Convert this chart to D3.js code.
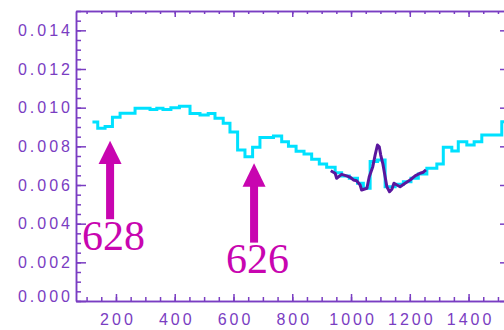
<!DOCTYPE html>
<html>
<head>
<meta charset="utf-8">
<script src="https://cdn.jsdelivr.net/npm/d3@7"></script>
<style>
  body { margin: 0; background: #fff; }
  svg { display: block; }
  .axis path, .axis line { stroke: #7a3dc2; stroke-width: 1.5; }
  .axis text { fill: #7a3dc2; font-family: "Liberation Sans", sans-serif; font-size: 16px; letter-spacing: 3px; }
</style>
</head>
<body>
<svg width="504" height="330"></svg>
<script>
// binned spectrum (cyan): bin edges and bin values
var binEdges = [120,138,163,188,214,265,316,339,360,387,416,452,486,514,537,565,588,614,639,665,
                690,736,764,787,813,840,866,892,917,946,968,994,1022,1042,1065,1090,1116,1150,1178,1204,
                1229,1258,1292,1314,1343,1365,1394,1419,1445,1513,1545];
var binValues = [0.00926,0.00893,0.00902,0.00950,0.00971,0.00997,0.00991,0.00997,0.00991,0.01000,
                 0.01007,0.00970,0.00962,0.00970,0.00945,0.00919,0.00874,0.00781,0.00746,0.00795,
                 0.00846,0.00853,0.00824,0.00800,0.00774,0.00760,0.00733,0.00709,0.00692,0.00664,
                 0.00647,0.00635,0.00609,0.00583,0.00721,0.00729,0.00591,0.00604,0.00617,0.00635,
                 0.00657,0.00686,0.00709,0.00795,0.00776,0.00824,0.00807,0.00824,0.00859,0.00927];

// high resolution piece (dark purple)
var hiresX = [931,946,951,968,985,997,1008,1019,1031,1036,1054,1062,1074,1082,1090,1096,1101,1108,
              1116,1122,1131,1139,1146,1156,1167,1184,1201,1218,1235,1246,1255];
var hiresY = [0.00674,0.00661,0.00635,0.00655,0.00647,0.00640,0.00626,0.00622,0.00600,0.00574,0.00583,
              0.00643,0.00695,0.00755,0.00807,0.00798,0.00755,0.00712,0.00643,0.00591,0.00565,0.00578,
              0.00609,0.00600,0.00591,0.00609,0.00626,0.00647,0.00661,0.00666,0.00678];

// arrows: x, tip, head base, tail, label
var arrowX = [180, 670];
var arrowTip = [0.00829, 0.00712];
var arrowHeadBase = [0.00709, 0.00591];
var arrowTail = [0.00423, 0.00302];
var arrowLabels = ["628", "626"];
var labelX = [192, 682];
var labelY = [0.00264, 0.00143];

var xMajor = [200, 400, 600, 800, 1000, 1200, 1400];
var yMajor = [0, 0.002, 0.004, 0.006, 0.008, 0.010, 0.012, 0.014];

var svg = d3.select("svg");
var xs = d3.scaleLinear().domain([64, 1541]).range([76, 510]);
var ys = d3.scaleLinear().domain([0, 0.015]).range([301, 11]);

var xMinor = d3.range(100, 1541, 50);
var yMinor = d3.range(0, 0.01501, 0.0005);

svg.append("clipPath").attr("id", "plot")
    .append("rect").attr("x", 76).attr("y", 11).attr("width", 434).attr("height", 290);

var plot = svg.append("g").attr("clip-path", "url(#plot)");

var stepPts = binValues.map(function(v, i) { return [binEdges[i], v]; });
stepPts.push([binEdges[binEdges.length - 1], binValues[binValues.length - 1]]);

var line = d3.line()
    .x(function(d) { return xs(d[0]); })
    .y(function(d) { return ys(d[1]); });

plot.append("path")
    .datum(stepPts)
    .attr("d", line.curve(d3.curveStepAfter))
    .attr("fill", "none")
    .attr("stroke", "#00e1ff")
    .attr("stroke-width", 3);

plot.append("path")
    .datum(hiresX.map(function(x, i) { return [x, hiresY[i]]; }))
    .attr("d", d3.line().x(function(d) { return xs(d[0]); }).y(function(d) { return ys(d[1]); }))
    .attr("fill", "none")
    .attr("stroke", "#5a169e")
    .attr("stroke-width", 3)
    .attr("stroke-linejoin", "round");

// arrows
arrowX.forEach(function(ax, i) {
    var cx = xs(ax);
    svg.append("rect")
        .attr("x", cx - 4).attr("width", 8)
        .attr("y", ys(arrowHeadBase[i]) - 1)
        .attr("height", ys(arrowTail[i]) - ys(arrowHeadBase[i]) + 1)
        .attr("fill", "#c805b0");
    svg.append("path")
        .attr("d", "M" + cx + "," + ys(arrowTip[i]) +
                   "L" + (cx + 11.5) + "," + ys(arrowHeadBase[i]) +
                   "L" + (cx - 11.5) + "," + ys(arrowHeadBase[i]) + "Z")
        .attr("fill", "#c805b0");
    svg.append("text")
        .attr("x", xs(labelX[i]))
        .attr("y", ys(labelY[i]))
        .attr("text-anchor", "middle")
        .attr("font-family", "Liberation Serif, serif")
        .attr("font-size", 42)
        .attr("fill", "#c805b0")
        .text(arrowLabels[i]);
});

// axes: minor ticks first, then major ticks with labels
function addAxis(axis, tx, ty) {
    return svg.append("g").attr("class", "axis")
        .attr("transform", "translate(" + tx + "," + ty + ")")
        .call(axis);
}

addAxis(d3.axisBottom(xs).tickValues(xMinor).tickSize(-4).tickSizeOuter(0).tickFormat(""), 0, 301);
var xa = addAxis(d3.axisBottom(xs).tickValues(xMajor).tickSize(-7).tickSizeOuter(0).tickPadding(12.5)
    .tickFormat(d3.format("d")), 0, 301);
xa.selectAll(".tick text").attr("dx", 1.5);
addAxis(d3.axisTop(xs).tickValues(xMinor).tickSize(-3).tickSizeOuter(0).tickFormat(""), 0, 11);
addAxis(d3.axisTop(xs).tickValues(xMajor).tickSize(-6).tickSizeOuter(0).tickFormat(""), 0, 11);

addAxis(d3.axisLeft(ys).tickValues(yMinor).tickSize(-5).tickSizeOuter(0).tickFormat(""), 76, 0);
var ya = addAxis(d3.axisLeft(ys).tickValues(yMajor).tickSize(-10).tickSizeOuter(0).tickPadding(3)
    .tickFormat(d3.format(".3f")), 76, 0);
addAxis(d3.axisRight(ys).tickValues(yMinor).tickSize(-5).tickSizeOuter(0).tickFormat(""), 510, 0);
addAxis(d3.axisRight(ys).tickValues(yMajor).tickSize(-10).tickSizeOuter(0).tickFormat(""), 510, 0);

// the zero label sits a little above its tick
ya.selectAll(".tick text").filter(function(d) { return d === 0; }).attr("dy", "0.0em");
</script>
</body>
</html>
